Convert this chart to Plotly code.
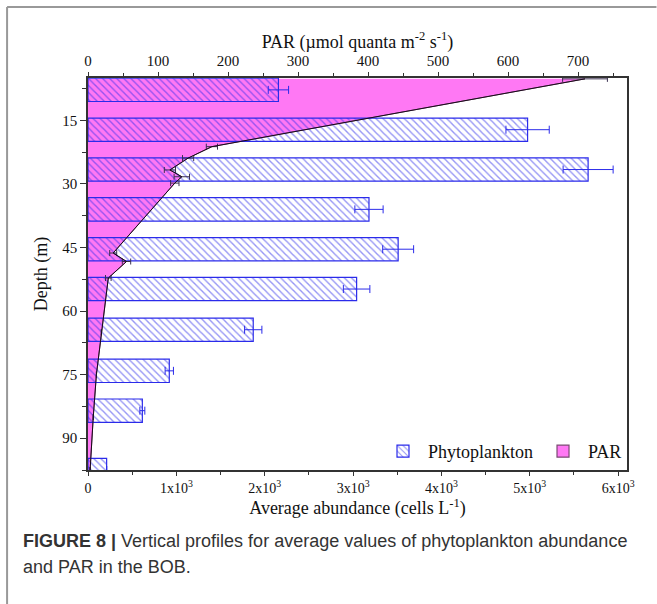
import plotly.graph_objects as go

# ---------------- data ----------------
phyto_depth = [7.8, 17.2, 26.6, 36.0, 45.4, 54.8, 64.4, 74.1, 83.5, 97.5]
phyto_value = [2155, 4975, 5660, 3180, 3510, 3040, 1870, 920, 615, 211]
phyto_err = [115, 245, 283, 160, 175, 150, 98, 47, 28, 0]

par_depth = [5.2, 21.2, 23.9, 26.7, 28.3, 29.8, 46.3, 48.3, 52.2, 65, 75, 85, 97.5]
par_value = [710, 177, 143, 117, 134, 124, 36, 55, 29, 19, 12, 7.5, 3]
par_err = [32, 8, 8, 8, 11, 6, 5, 6, 4, 0, 0, 0, 0]

depth_ticks = [15, 30, 45, 60, 75, 90]
par_ticks = [0, 100, 200, 300, 400, 500, 600, 700]
abund_ticks = [0, 1000, 2000, 3000, 4000, 5000, 6000]
abund_labels = ["0", "1x10<sup>3</sup>", "2x10<sup>3</sup>", "3x10<sup>3</sup>",
                "4x10<sup>3</sup>", "5x10<sup>3</sup>", "6x10<sup>3</sup>"]

# ---------------- layout geometry ----------------
W, H = 657, 604
L, R, T, B = 88, 627.5, 78, 470
pw, ph = R - L, B - T


def px(xp):
    return (xp - L) / pw


def py(yp):
    return (B - yp) / ph


SERIF = "Liberation Serif, Times New Roman, serif"
PINK = "#ff78f4"
BLUE = "#2b2bea"
AXC = "#333333"

fig = go.Figure()

# PAR filled area (bottom layer, top axis)
fig.add_trace(go.Scatter(
    x=par_value, y=par_depth, xaxis="x", yaxis="y",
    mode="lines", fill="tozerox", fillcolor=PINK,
    line=dict(color="#7a4a72", width=1),
    name="PAR", showlegend=False,
))

# Phytoplankton bars (bottom axis)
fig.add_trace(go.Bar(
    x=phyto_value, y=phyto_depth, orientation="h", xaxis="x2", yaxis="y",
    width=5.5, name="Phytoplankton", legendrank=1,
    marker=dict(color="rgba(0,0,0,0)",
                line=dict(color=BLUE, width=1.2),
                pattern=dict(shape="\\", fgcolor=BLUE, bgcolor="rgba(0,0,0,0)",
                             size=5, solidity=0.28, fillmode="overlay")),
    error_x=dict(type="data", array=phyto_err, visible=True, color=BLUE,
                 thickness=1, width=4),
))

# PAR legend entry (box swatch, no drawn marks)
fig.add_trace(go.Bar(
    x=[None], y=[None], orientation="h", xaxis="x2", yaxis="y",
    name="PAR", legendrank=2,
    marker=dict(color=PINK, line=dict(color="#7a4a72", width=1.2)),
))

# PAR line + error bars on top
fig.add_trace(go.Scatter(
    x=par_value, y=par_depth, xaxis="x3", yaxis="y",
    mode="lines", line=dict(color="#1a0a1a", width=1),
    error_x=dict(type="data", array=par_err, visible=True, color="#3a3050",
                 thickness=1, width=3),
    showlegend=False,
))

fig.update_layout(
    width=W, height=H,
    margin=dict(l=L, r=W - R, t=T, b=H - B),
    paper_bgcolor="white", plot_bgcolor="white",
    font=dict(family=SERIF, size=14, color="#111111"),
    showlegend=True,
    legend=dict(orientation="h", x=1, xanchor="right", y=0.0, yanchor="bottom",
                bgcolor="rgba(0,0,0,0)", font=dict(family=SERIF, size=18),
                itemwidth=40),
    xaxis=dict(side="top", range=[0, 770], tickvals=par_ticks,
               showline=True, linecolor=AXC, linewidth=1.5,
               ticks="outside", ticklen=4, tickcolor=AXC,
               minor=dict(tickvals=[50, 150, 250, 350, 450, 550, 650, 750],
                          ticks="outside", ticklen=3, tickcolor=AXC),
               showgrid=False, zeroline=False, anchor="y",
               tickfont=dict(size=15),
               title=dict(text="PAR (µmol quanta m<sup>-2</sup> s<sup>-1</sup>)",
                          font=dict(size=18), standoff=0)),
    xaxis2=dict(side="bottom", overlaying="x", range=[0, 6100],
                tickvals=abund_ticks, ticktext=abund_labels,
                showline=True, linecolor=AXC, linewidth=1.5,
                ticks="outside", ticklen=4, tickcolor=AXC,
                minor=dict(tickvals=[500, 1500, 2500, 3500, 4500, 5500],
                           ticks="outside", ticklen=3, tickcolor=AXC),
                showgrid=False, zeroline=False, anchor="y",
                tickfont=dict(size=14),
                title=dict(text="Average abundance (cells L<sup>-1</sup>)",
                           font=dict(size=18), standoff=0)),
    xaxis3=dict(overlaying="x", range=[0, 770], visible=False, anchor="y"),
    yaxis=dict(range=[97.5, 5], tickvals=depth_ticks,
               showline=True, linecolor=AXC, linewidth=1.5, mirror=True,
               ticks="outside", ticklen=6, tickcolor=AXC,
               minor=dict(tickvals=[7.5, 22.5, 37.5, 52.5, 67.5, 82.5, 97.5],
                          ticks="outside", ticklen=4, tickcolor=AXC),
               showgrid=False, zeroline=False, tickfont=dict(size=15),
               title=dict(text="Depth (m)", font=dict(size=18), standoff=10)),
)

# Caption
CAP = "Liberation Sans, Arial, sans-serif"
fig.add_annotation(xref="paper", yref="paper", x=px(21), y=py(541),
                   xanchor="left", yanchor="middle", showarrow=False,
                   text="<b>FIGURE 8 |</b> Vertical profiles for average values of phytoplankton abundance",
                   font=dict(family=CAP, size=18, color="#333333"))
fig.add_annotation(xref="paper", yref="paper", x=px(21), y=py(567),
                   xanchor="left", yanchor="middle", showarrow=False,
                   text="and PAR in the BOB.",
                   font=dict(family=CAP, size=18, color="#333333"))

# Frame lines (top and left)
fig.add_shape(type="line", xref="paper", yref="paper",
              x0=px(7), x1=px(657), y0=py(7), y1=py(7),
              line=dict(color="#999999", width=2))
fig.add_shape(type="line", xref="paper", yref="paper",
              x0=px(7), x1=px(7), y0=py(7), y1=py(604),
              line=dict(color="#999999", width=2))

fig.write_html("out.html")
